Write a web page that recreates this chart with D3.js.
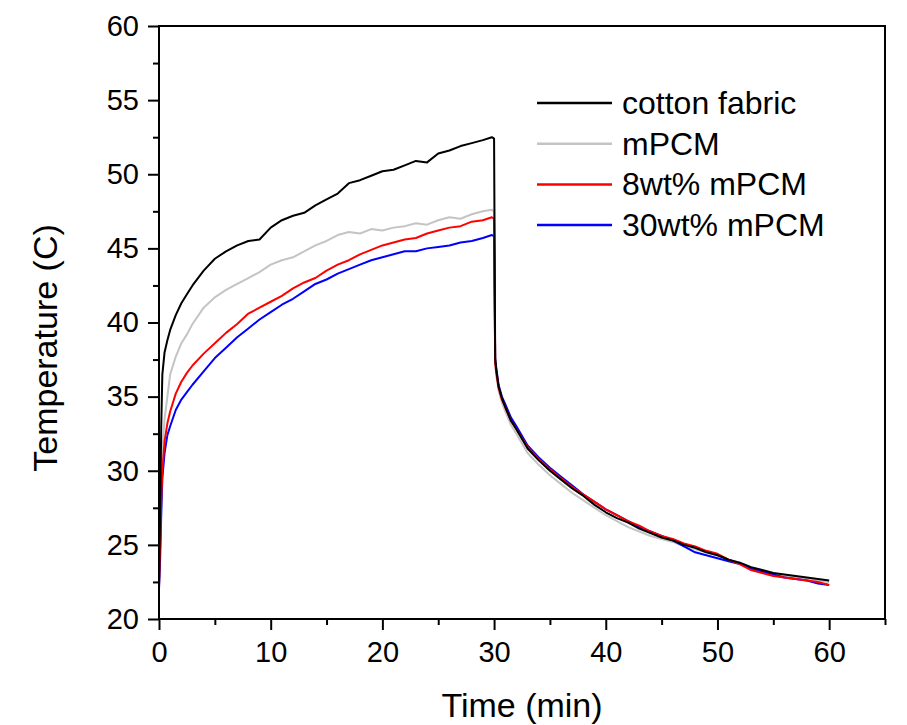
<!DOCTYPE html>
<html>
<head>
<meta charset="utf-8">
<script src="https://cdnjs.cloudflare.com/ajax/libs/d3/7.8.5/d3.min.js"></script>
<style>
  body { margin: 0; background: #fff; }
  svg text { font-family: "Liberation Sans", Arial, sans-serif; fill: #000; }
</style>
</head>
<body>
<div id="chart"></div>
<script>
// time (min)
var timeMin = [0, 0.1, 0.2, 0.3, 0.5, 0.75, 1, 1.5, 2, 2.5, 3,
    4, 5, 6, 7, 8, 9, 10, 11, 12, 13, 14, 15, 16, 17, 18, 19, 20, 21, 22, 23, 24, 25, 26, 27, 28, 29,
    29.8, 30, 30.1, 30.2, 30.4, 30.7, 31, 31.5, 32,
    33, 34, 35, 36, 37, 38, 39, 40, 41, 42, 43, 44, 45, 46, 47, 48, 49, 50, 51, 52, 53, 54, 55, 56, 57, 58, 59, 60];

// temperature (C) for each sample
var cottonTemp = [22.3, 27.0, 33.0, 36.5, 38.0, 38.8, 39.5, 40.5, 41.3, 41.9, 42.5,
    43.5, 44.3, 44.8, 45.2, 45.5, 45.6, 46.4, 46.9, 47.2, 47.4, 47.9, 48.3, 48.7, 49.4, 49.6, 49.9, 50.2, 50.3, 50.6, 50.9, 50.8, 51.4, 51.6, 51.9, 52.1, 52.3,
    52.5, 52.4, 37.6, 36.8, 35.7, 34.9, 34.3, 33.4, 32.8,
    31.5, 30.7, 30.0, 29.4, 28.8, 28.3, 27.7, 27.2, 26.8, 26.5, 26.1, 25.8, 25.5, 25.3, 25.0, 24.8, 24.5, 24.3, 24.0, 23.8, 23.5, 23.3, 23.1, 23.0, 22.9, 22.8, 22.7, 22.6];

var mpcmTemp = [22.2, 25.0, 29.0, 31.5, 33.5, 35.0, 36.5, 37.7, 38.6, 39.2, 39.9,
    41.0, 41.7, 42.2, 42.6, 43.0, 43.4, 43.9, 44.2, 44.4, 44.8, 45.2, 45.5, 45.9, 46.1, 46.0, 46.3, 46.2, 46.4, 46.5, 46.7, 46.6, 46.9, 47.1, 47.0, 47.3, 47.5,
    47.6, 47.5, 37.2, 36.4, 35.4, 34.6, 34.0, 33.1, 32.5,
    31.2, 30.4, 29.7, 29.1, 28.5, 28.0, 27.5, 27.0, 26.6, 26.2, 25.9, 25.6, 25.4, 25.2, 24.9, 24.7, 24.5, 24.3, 24.0, 23.8, 23.5, 23.3, 23.1, 22.9, 22.8, 22.7, 22.6, 22.5];

var pcm8Temp = [22.2, 25.0, 28.0, 30.0, 32.0, 33.2, 34.0, 35.2, 36.0, 36.6, 37.1,
    37.9, 38.6, 39.3, 39.9, 40.6, 41.0, 41.4, 41.8, 42.3, 42.7, 43.0, 43.5, 43.9, 44.2, 44.6, 44.9, 45.2, 45.4, 45.6, 45.7, 46.0, 46.2, 46.4, 46.5, 46.8, 46.9,
    47.1, 47.0, 37.3, 36.6, 35.6, 34.8, 34.3, 33.4, 32.8,
    31.6, 30.8, 30.1, 29.5, 28.9, 28.4, 27.9, 27.4, 27.0, 26.6, 26.3, 25.9, 25.6, 25.4, 25.1, 24.9, 24.6, 24.4, 24.0, 23.7, 23.3, 23.1, 22.9, 22.8, 22.7, 22.6, 22.5, 22.3];

var pcm30Temp = [22.0, 24.0, 27.0, 29.5, 31.2, 32.4, 33.0, 34.1, 34.8, 35.3, 35.8,
    36.7, 37.6, 38.3, 39.0, 39.6, 40.2, 40.7, 41.2, 41.6, 42.1, 42.6, 42.9, 43.3, 43.6, 43.9, 44.2, 44.4, 44.6, 44.8, 44.8, 45.0, 45.1, 45.2, 45.4, 45.5, 45.7,
    45.9, 45.8, 37.5, 36.9, 35.8, 35.0, 34.5, 33.6, 33.0,
    31.7, 30.9, 30.2, 29.6, 29.0, 28.4, 27.9, 27.4, 27.0, 26.6, 26.2, 25.9, 25.6, 25.3, 24.9, 24.5, 24.3, 24.1, 23.9, 23.7, 23.4, 23.2, 23.0, 22.8, 22.7, 22.6, 22.4, 22.3];

var seriesNames = ["cotton fabric", "mPCM", "8wt% mPCM", "30wt% mPCM"];
var seriesColors = ["#000000", "#c4c4c4", "#ff0000", "#0000ff"];
var seriesValues = [cottonTemp, mpcmTemp, pcm8Temp, pcm30Temp];

var xMajor = [0, 10, 20, 30, 40, 50, 60];
var xMinor = [5, 15, 25, 35, 45, 55, 65];
var yMajor = [20, 25, 30, 35, 40, 45, 50, 55, 60];
var yMinor = [22.5, 27.5, 32.5, 37.5, 42.5, 47.5, 52.5, 57.5];

var W = 907, H = 725;
var margin = {top: 26, right: 22, bottom: 106, left: 159};
var width = W - margin.left - margin.right,
    height = H - margin.top - margin.bottom;

var svg = d3.select("#chart").append("svg")
    .attr("width", W)
    .attr("height", H);

var g = svg.append("g")
    .attr("transform", "translate(" + margin.left + "," + margin.top + ")");

var x = d3.scaleLinear().domain([0, 65]).range([0, width]);
var y = d3.scaleLinear().domain([20, 60]).range([height, 0]);

// minor ticks
g.append("g")
    .attr("transform", "translate(0," + height + ")")
    .call(d3.axisBottom(x).tickValues(xMinor).tickSize(6).tickFormat(""))
    .call(function (a) { a.select(".domain").remove(); });
g.append("g")
    .call(d3.axisLeft(y).tickValues(yMinor).tickSize(6).tickFormat(""))
    .call(function (a) { a.select(".domain").remove(); });

// major ticks + labels
var xAxis = g.append("g")
    .attr("transform", "translate(0," + height + ")")
    .call(d3.axisBottom(x).tickValues(xMajor).tickSize(11).tickPadding(11).tickFormat(d3.format("d")));
var yAxis = g.append("g")
    .call(d3.axisLeft(y).tickValues(yMajor).tickSize(11).tickPadding(9).tickFormat(d3.format("d")));

[xAxis, yAxis].forEach(function (a) {
    a.select(".domain").remove();
    a.selectAll("text").style("font-size", "29px");
});
g.selectAll(".tick line").attr("stroke", "#000").attr("stroke-width", 2);

// lines
var line = d3.line()
    .x(function (d) { return x(d[0]); })
    .y(function (d) { return y(d[1]); });

var drawOrder = [1, 3, 2, 0];
drawOrder.forEach(function (i) {
    var pts = timeMin.map(function (t, k) { return [t, seriesValues[i][k]]; });
    g.append("path")
        .datum(pts)
        .attr("fill", "none")
        .attr("stroke", seriesColors[i])
        .attr("stroke-width", 2)
        .attr("stroke-linejoin", "round")
        .attr("d", line);
});

// frame
g.append("rect")
    .attr("x", 0).attr("y", 0)
    .attr("width", width).attr("height", height)
    .attr("fill", "none")
    .attr("stroke", "#000")
    .attr("stroke-width", 2);

// legend
var legend = g.append("g").attr("transform", "translate(" + (537 - margin.left) + "," + (103 - margin.top) + ")");
seriesNames.forEach(function (name, i) {
    var row = legend.append("g").attr("transform", "translate(0," + (i * 40.7) + ")");
    row.append("line")
        .attr("x1", 0).attr("x2", 75)
        .attr("y1", 0).attr("y2", 0)
        .attr("stroke", seriesColors[i])
        .attr("stroke-width", 2.5);
    row.append("text")
        .attr("x", 85)
        .attr("y", 11)
        .style("font-size", "32px")
        .text(name);
});

// axis titles
svg.append("text")
    .attr("x", margin.left + width / 2)
    .attr("y", 717)
    .attr("text-anchor", "middle")
    .style("font-size", "34px")
    .text("Time (min)");

svg.append("text")
    .attr("transform", "translate(57,348) rotate(-90)")
    .attr("text-anchor", "middle")
    .style("font-size", "34px")
    .text("Temperature (C)");
</script>
</body>
</html>
